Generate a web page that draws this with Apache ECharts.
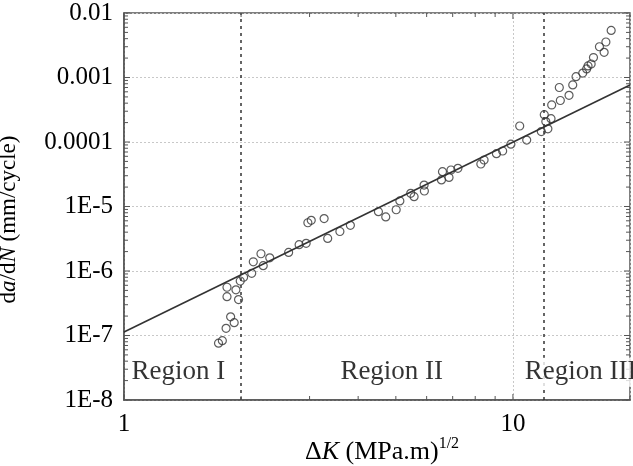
<!DOCTYPE html>
<html>
<head>
<meta charset="utf-8">
<script src="https://cdn.jsdelivr.net/npm/echarts@6/dist/echarts.min.js"></script>
<style>
  html, body { margin: 0; padding: 0; background: #fff; }
  #chart { width: 633px; height: 466px; }
</style>
</head>
<body>
<div id="chart"></div>
<script>
const deltaK = [1.75, 1.79, 1.83, 1.88, 1.92, 1.84, 1.84, 1.94, 1.97, 1.99,
  2.03, 2.13, 2.15, 2.25, 2.28, 2.37, 2.65, 2.82, 2.94, 2.97,
  3.03, 3.27, 3.34, 3.59, 3.82, 4.51, 4.71, 5.01, 5.12, 5.46,
  5.57, 5.91, 5.92, 6.59, 6.55, 6.85, 6.93, 7.22, 8.27, 8.43,
  9.07, 9.41, 9.88, 10.41, 10.85, 11.83, 12.04, 12.15, 12.3, 12.53,
  12.58, 13.16, 13.24, 13.94, 14.25, 14.53, 15.12, 15.47, 15.6, 15.89,
  16.11, 16.69, 17.16, 17.34, 17.89]
const growthRate = [7.6e-8, 8.3e-8, 1.29e-7, 1.95e-7, 1.58e-7, 4.0e-7, 5.6e-7, 5.1e-7, 3.6e-7, 7.0e-7,
  8.0e-7, 9.2e-7, 1.39e-6, 1.85e-6, 1.21e-6, 1.6e-6, 1.94e-6, 2.56e-6, 2.69e-6, 5.6e-6,
  6.1e-6, 6.5e-6, 3.2e-6, 4.1e-6, 5.1e-6, 8.3e-6, 6.9e-6, 8.9e-6, 1.22e-5, 1.6e-5,
  1.42e-5, 2.15e-5, 1.74e-5, 3.47e-5, 2.58e-5, 2.82e-5, 3.68e-5, 3.91e-5, 4.56e-5, 5.26e-5,
  6.6e-5, 7.25e-5, 9.25e-5, 1.77e-4, 1.07e-4, 1.45e-4, 2.65e-4, 2.07e-4, 1.6e-4, 2.3e-4,
  3.75e-4, 7.0e-4, 4.4e-4, 5.3e-4, 7.66e-4, 1.03e-3, 1.17e-3, 1.36e-3, 1.51e-3, 1.62e-3,
  2.04e-3, 3.0e-3, 2.46e-3, 3.55e-3, 5.36e-3]

// Paris-law fit line (end points)
const fitK = [1, 20]
const fitRate = [1.13e-7, 7.66e-4]

// region boundaries and labels
const boundaryK = [2, 12]
const regionNames = ['Region I', 'Region II', 'Region III']
const regionK = [1.38, 4.88, 14.93]
const regionRate = [2.7e-8, 2.7e-8, 2.7e-8]

// axis range and tick labels
const xRange = [1, 20]
const yRange = [1e-8, 1e-2]
const xTickValues = [1, 10]
const xTickLabels = ['1', '10']
const yTickValues = [1e-8, 1e-7, 1e-6, 1e-5, 1e-4, 1e-3, 1e-2]
const yTickLabels = ['1E-8', '1E-7', '1E-6', '1E-5', '0.0001', '0.001', '0.01']
const mantissas = [1, 2, 3, 4, 5, 6, 7, 8, 9]

// minor tick positions (log spacing)
const xMinorTicks = [1, 2, 3, 4, 5, 6, 7, 8, 9, 10, 20]
const yMinorTicks = []
yTickValues.forEach((d) => mantissas.forEach((m) => {
  const v = +(d * m).toPrecision(3)
  if (v <= yRange[1]) yMinorTicks.push(v)
}))

const serif = 'Liberation Serif'

function isDecade(v) {
  const l = Math.log10(v)
  return Math.abs(l - Math.round(l)) < 1e-6
}

function pickLabel(values, labels) {
  return function (v) {
    for (let i = 0; i < values.length; i++) {
      if (Math.abs(Math.log10(v) - Math.log10(values[i])) < 1e-6) return labels[i]
    }
    return ''
  }
}

function tickLine(x1, y1, x2, y2) {
  return { type: 'line', shape: { x1: x1, y1: y1, x2: x2, y2: y2 }, style: { stroke: '#555', lineWidth: 1 } }
}

const chart = echarts.init(document.getElementById('chart'), null, { renderer: 'canvas' })

chart.setOption({
  animation: false,
  backgroundColor: '#fff',
  grid: {
    left: 124, right: 3, top: 13, bottom: 66,
    outerBoundsMode: 'none', containLabel: false,
    show: true, borderColor: '#555', borderWidth: 1.5, backgroundColor: 'transparent',
  },
  xAxis: {
    type: 'log',
    logBase: 10,
    min: xRange[0],
    max: xRange[1],
    position: 'bottom',
    axisLine: { show: true, onZero: false, lineStyle: { color: '#555', width: 1.5 } },
    axisTick: { show: false },
    axisLabel: {
      formatter: pickLabel(xTickValues, xTickLabels),
      fontFamily: serif,
      fontSize: 25,
      color: '#000',
      margin: 12,
    },
    splitLine: { show: true, lineStyle: { color: '#c8c8c8', type: [2, 2], width: 1 } },
    name: '{n|Δ}{i|K}{n| (MPa.m)}{s|1/2}',
    nameLocation: 'middle',
    nameGap: 36,
    nameMoveOverlap: false,
    nameTextStyle: {
      padding: [0, 0, 0, 10],
      rich: {
        n: { fontFamily: serif, fontSize: 26, color: '#000', lineHeight: 32 },
        i: { fontFamily: serif, fontSize: 26, color: '#000', fontStyle: 'italic', lineHeight: 32 },
        s: { fontFamily: serif, fontSize: 16, color: '#000', lineHeight: 16, verticalAlign: 'top' },
      },
    },
  },
  yAxis: {
    type: 'log',
    logBase: 10,
    min: yRange[0],
    max: yRange[1],
    splitNumber: 6,
    position: 'left',
    axisLine: { show: true, onZero: false, lineStyle: { color: '#555', width: 1.5 } },
    axisTick: { show: false },
    axisLabel: {
      formatter: pickLabel(yTickValues, yTickLabels),
      fontFamily: serif,
      fontSize: 25,
      color: '#000',
      margin: 11,
    },
    splitLine: { show: true, lineStyle: { color: '#c8c8c8', type: [2, 2], width: 1 } },
    name: '{n|d}{i|a}{n|/d}{i|N}{n| (mm/cycle)}',
    nameLocation: 'middle',
    nameRotate: 90,
    nameGap: 104,
    nameMoveOverlap: false,
    nameTextStyle: {
      padding: [0, 26, 0, 0],
      rich: {
        n: { fontFamily: serif, fontSize: 23, color: '#000' },
        i: { fontFamily: serif, fontSize: 23, color: '#000', fontStyle: 'italic' },
      },
    },
  },
  series: [
    {
      // inward ticks on bottom and top edges
      type: 'custom',
      coordinateSystem: 'cartesian2d',
      silent: true,
      clip: false,
      z: 5,
      data: xMinorTicks.map((v) => [v, yRange[0]]),
      renderItem: function (params, api) {
        const v = api.value(0)
        const len = isDecade(v) ? 6 : 4
        const b = api.coord([v, yRange[0]])
        const t = api.coord([v, yRange[1]])
        return {
          type: 'group',
          children: [tickLine(b[0], b[1], b[0], b[1] - len), tickLine(t[0], t[1], t[0], t[1] + len)],
        }
      },
    },
    {
      // inward ticks on left and right edges
      type: 'custom',
      coordinateSystem: 'cartesian2d',
      silent: true,
      clip: false,
      z: 5,
      data: yMinorTicks.map((v) => [xRange[0], v]),
      renderItem: function (params, api) {
        const v = api.value(1)
        const len = isDecade(v) ? 6 : 4
        const l = api.coord([xRange[0], v])
        const r = api.coord([xRange[1], v])
        return {
          type: 'group',
          children: [tickLine(l[0], l[1], l[0] + len, l[1]), tickLine(r[0], r[1], r[0] - len, r[1])],
        }
      },
    },
    {
      type: 'line',
      data: fitK.map((k, i) => [k, fitRate[i]]),
      symbol: 'none',
      lineStyle: { color: '#333', width: 1.6 },
      z: 3,
      markLine: {
        silent: true,
        symbol: 'none',
        label: { show: false },
        lineStyle: { color: '#333', width: 1.5, type: [3, 4] },
        data: boundaryK.map((k) => ({ xAxis: k })),
      },
    },
    {
      type: 'scatter',
      data: deltaK.map((k, i) => [k, growthRate[i]]),
      symbol: 'circle',
      symbolSize: 8,
      itemStyle: { color: 'rgba(0,0,0,0)', borderColor: '#333', borderWidth: 1.2 },
      z: 4,
    },
    {
      type: 'scatter',
      data: regionNames.map((n, i) => ({ name: n, value: [regionK[i], regionRate[i]] })),
      symbolSize: 0,
      silent: true,
      z: 10,
      label: {
        show: true,
        position: 'inside',
        formatter: '{b}',
        fontFamily: serif,
        fontSize: 27,
        color: '#000',
        backgroundColor: '#fff',
        padding: [1, 2],
      },
    },
  ],
})
</script>
</body>
</html>
